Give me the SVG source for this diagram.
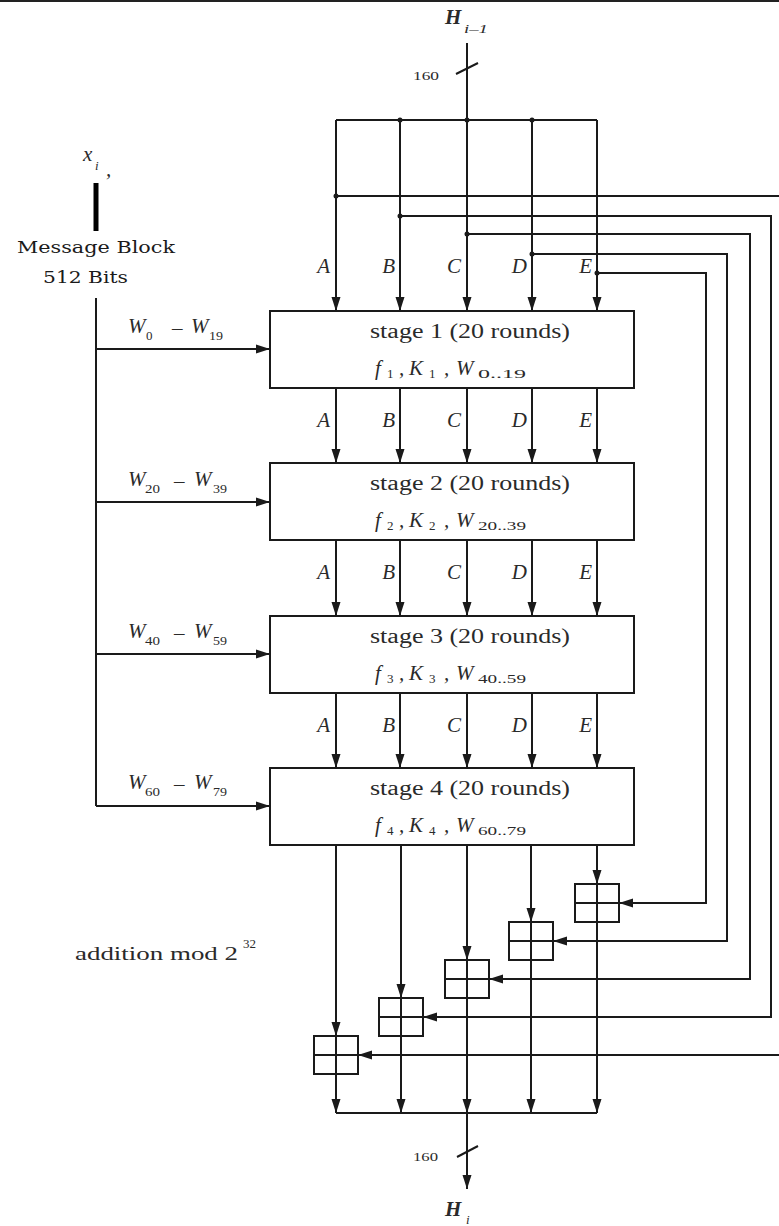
<svg xmlns="http://www.w3.org/2000/svg" width="779" height="1226" viewBox="0 0 779 1226">
<style>
.ln{stroke:#1a1a1a;stroke-width:2;fill:none}
.thick{stroke:#000;stroke-width:5}
.ar{marker-end:url(#ah)}
.box{fill:#fff;stroke:#1a1a1a;stroke-width:2}
.dot{fill:#1a1a1a}
.t{font-family:"Liberation Serif","Times New Roman",serif;fill:#2a2a2a}
.st{font-size:20px}
.it{font-style:italic;font-size:21px}
.lb{font-style:italic;font-size:21px;text-anchor:end}
.sub{font-size:13px}
.si{font-style:italic;font-size:13px}
.hb{font-style:italic;font-weight:bold;font-size:21px}
.msg{font-family:"DejaVu Serif","Liberation Serif",serif;font-size:17px;fill:#1a1a1a}
.sm{font-size:12px}
</style>
<defs>
<marker id="ah" markerUnits="userSpaceOnUse" markerWidth="14" markerHeight="10" refX="14" refY="5" orient="auto"><path d="M0,0.5 L14,5 L0,9.5 z" fill="#1a1a1a"/></marker>
</defs>
<rect x="0" y="0" width="779" height="2" fill="#222"/>

<g id="connectors">
<line class="ln" x1="467" y1="43" x2="467" y2="120"/>
<line class="ln" x1="456" y1="74" x2="478" y2="63"/>
<path class="ln" d="M336,120 H597"/>
<line class="ln ar" x1="336" y1="120" x2="336" y2="311"/>
<line class="ln ar" x1="400" y1="120" x2="400" y2="311"/>
<line class="ln ar" x1="467" y1="120" x2="467" y2="311"/>
<line class="ln ar" x1="532" y1="120" x2="532" y2="311"/>
<line class="ln ar" x1="597" y1="120" x2="597" y2="311"/>
<line class="ln ar" x1="336" y1="388" x2="336" y2="463"/>
<line class="ln ar" x1="400" y1="388" x2="400" y2="463"/>
<line class="ln ar" x1="467" y1="388" x2="467" y2="463"/>
<line class="ln ar" x1="532" y1="388" x2="532" y2="463"/>
<line class="ln ar" x1="597" y1="388" x2="597" y2="463"/>
<line class="ln ar" x1="336" y1="540" x2="336" y2="616"/>
<line class="ln ar" x1="400" y1="540" x2="400" y2="616"/>
<line class="ln ar" x1="467" y1="540" x2="467" y2="616"/>
<line class="ln ar" x1="532" y1="540" x2="532" y2="616"/>
<line class="ln ar" x1="597" y1="540" x2="597" y2="616"/>
<line class="ln ar" x1="336" y1="693" x2="336" y2="768"/>
<line class="ln ar" x1="400" y1="693" x2="400" y2="768"/>
<line class="ln ar" x1="467" y1="693" x2="467" y2="768"/>
<line class="ln ar" x1="532" y1="693" x2="532" y2="768"/>
<line class="ln ar" x1="597" y1="693" x2="597" y2="768"/>
<line class="ln ar" x1="597" y1="845" x2="597" y2="884"/>
<line class="ln ar" x1="531" y1="845" x2="531" y2="922"/>
<line class="ln ar" x1="467" y1="845" x2="467" y2="960"/>
<line class="ln ar" x1="401" y1="845" x2="401" y2="998"/>
<line class="ln ar" x1="336" y1="845" x2="336" y2="1036"/>
<line class="ln ar" x1="597" y1="922" x2="597" y2="1113"/>
<line class="ln ar" x1="531" y1="960" x2="531" y2="1113"/>
<line class="ln ar" x1="467" y1="998" x2="467" y2="1113"/>
<line class="ln ar" x1="401" y1="1036" x2="401" y2="1113"/>
<line class="ln ar" x1="336" y1="1074" x2="336" y2="1113"/>
<path class="ln" d="M336,1113 H597"/>
<line class="ln ar" x1="467" y1="1113" x2="467" y2="1189"/>
<line class="ln" x1="457" y1="1157" x2="478" y2="1146"/>
<path class="ln ar" d="M336,196 H790 V1055 H358"/>
<path class="ln ar" d="M400,216 H771 V1017 H423"/>
<path class="ln ar" d="M467,234 H750 V979 H489"/>
<path class="ln ar" d="M532,254 H727 V941 H553"/>
<path class="ln ar" d="M597,273 H706 V903 H619"/>
<path class="ln" d="M96,298 V806"/>
<line class="ln ar" x1="96" y1="349" x2="270" y2="349"/>
<line class="ln ar" x1="96" y1="502" x2="270" y2="502"/>
<line class="ln ar" x1="96" y1="654" x2="270" y2="654"/>
<line class="ln ar" x1="96" y1="806" x2="270" y2="806"/>
<circle class="dot" cx="400" cy="120" r="2.5"/>
<circle class="dot" cx="467" cy="120" r="2.5"/>
<circle class="dot" cx="532" cy="120" r="2.5"/>
<circle class="dot" cx="336" cy="196" r="2.5"/>
<circle class="dot" cx="400" cy="216" r="2.5"/>
<circle class="dot" cx="467" cy="234" r="2.5"/>
<circle class="dot" cx="532" cy="254" r="2.5"/>
<circle class="dot" cx="597" cy="273" r="2.5"/>
</g>

<g id="labels-abcde" class="t">
<text class="lb" x="330" y="273">A</text><text class="lb" x="395" y="273">B</text><text class="lb" x="461" y="273">C</text><text class="lb" x="527" y="273">D</text><text class="lb" x="592" y="273">E</text>
<text class="lb" x="330" y="427">A</text><text class="lb" x="395" y="427">B</text><text class="lb" x="461" y="427">C</text><text class="lb" x="527" y="427">D</text><text class="lb" x="592" y="427">E</text>
<text class="lb" x="330" y="579">A</text><text class="lb" x="395" y="579">B</text><text class="lb" x="461" y="579">C</text><text class="lb" x="527" y="579">D</text><text class="lb" x="592" y="579">E</text>
<text class="lb" x="330" y="732">A</text><text class="lb" x="395" y="732">B</text><text class="lb" x="461" y="732">C</text><text class="lb" x="527" y="732">D</text><text class="lb" x="592" y="732">E</text>
</g>

<g id="hin" class="t">
<text class="hb" x="445" y="24">H</text><text class="si" x="464" y="33" textLength="24" lengthAdjust="spacingAndGlyphs">i–1</text>
<text class="t sm" x="413" y="80" textLength="26" lengthAdjust="spacingAndGlyphs">160</text>
</g>

<g id="message">
<text class="t it" x="83" y="161">x</text><text class="t si" x="95" y="170">i</text><text class="t it" x="106" y="176">,</text>
<line class="thick" x1="96" y1="183" x2="96" y2="231"/>
<text class="msg" x="17" y="253" textLength="158" lengthAdjust="spacingAndGlyphs">Message Block</text>
<text class="msg" x="43" y="283" textLength="85" lengthAdjust="spacingAndGlyphs">512 Bits</text>
</g>

<g id="wlabels" class="t">
<text class="it" x="128" y="333">W</text><text class="sub" x="146" y="340">0</text><text class="it" x="172" y="335">–</text><text class="it" x="191" y="333">W</text><text class="sub" x="209" y="340" textLength="14" lengthAdjust="spacingAndGlyphs">19</text>
<text class="it" x="128" y="486">W</text><text class="sub" x="145" y="493" textLength="15" lengthAdjust="spacingAndGlyphs">20</text><text class="it" x="174" y="488">–</text><text class="it" x="194" y="486">W</text><text class="sub" x="213" y="493" textLength="14" lengthAdjust="spacingAndGlyphs">39</text>
<text class="it" x="128" y="638">W</text><text class="sub" x="145" y="645" textLength="15" lengthAdjust="spacingAndGlyphs">40</text><text class="it" x="174" y="640">–</text><text class="it" x="194" y="638">W</text><text class="sub" x="213" y="645" textLength="14" lengthAdjust="spacingAndGlyphs">59</text>
<text class="it" x="128" y="789">W</text><text class="sub" x="145" y="796" textLength="15" lengthAdjust="spacingAndGlyphs">60</text><text class="it" x="174" y="791">–</text><text class="it" x="194" y="789">W</text><text class="sub" x="213" y="796" textLength="14" lengthAdjust="spacingAndGlyphs">79</text>
</g>

<g id="stage1">
<rect class="box" x="270" y="311" width="364" height="77"/>
<text class="t st" x="370" y="338" textLength="200" lengthAdjust="spacingAndGlyphs">stage 1 (20 rounds)</text>
<text class="t it" x="375" y="375">f</text><text class="t sub" x="387" y="378">1</text><text class="t it" x="399" y="375">,</text><text class="t it" x="409" y="375">K</text><text class="t sub" x="429" y="378">1</text><text class="t it" x="444" y="375">,</text><text class="t it" x="456" y="375">W</text><text class="t sub" x="478" y="378" textLength="48" lengthAdjust="spacingAndGlyphs">0..19</text>
</g>
<g id="stage2">
<rect class="box" x="270" y="463" width="364" height="77"/>
<text class="t st" x="370" y="490" textLength="200" lengthAdjust="spacingAndGlyphs">stage 2 (20 rounds)</text>
<text class="t it" x="375" y="527">f</text><text class="t sub" x="387" y="530">2</text><text class="t it" x="399" y="527">,</text><text class="t it" x="409" y="527">K</text><text class="t sub" x="429" y="530">2</text><text class="t it" x="444" y="527">,</text><text class="t it" x="456" y="527">W</text><text class="t sub" x="478" y="530" textLength="48" lengthAdjust="spacingAndGlyphs">20..39</text>
</g>
<g id="stage3">
<rect class="box" x="270" y="616" width="364" height="77"/>
<text class="t st" x="370" y="643" textLength="200" lengthAdjust="spacingAndGlyphs">stage 3 (20 rounds)</text>
<text class="t it" x="375" y="680">f</text><text class="t sub" x="387" y="683">3</text><text class="t it" x="399" y="680">,</text><text class="t it" x="409" y="680">K</text><text class="t sub" x="429" y="683">3</text><text class="t it" x="444" y="680">,</text><text class="t it" x="456" y="680">W</text><text class="t sub" x="478" y="683" textLength="48" lengthAdjust="spacingAndGlyphs">40..59</text>
</g>
<g id="stage4">
<rect class="box" x="270" y="768" width="364" height="77"/>
<text class="t st" x="370" y="795" textLength="200" lengthAdjust="spacingAndGlyphs">stage 4 (20 rounds)</text>
<text class="t it" x="375" y="832">f</text><text class="t sub" x="387" y="835">4</text><text class="t it" x="399" y="832">,</text><text class="t it" x="409" y="832">K</text><text class="t sub" x="429" y="835">4</text><text class="t it" x="444" y="832">,</text><text class="t it" x="456" y="832">W</text><text class="t sub" x="478" y="835" textLength="48" lengthAdjust="spacingAndGlyphs">60..79</text>
</g>

<g id="adderE"><rect class="box" x="575" y="884" width="44" height="38"/><path class="ln" d="M597,884 V922 M575,903 H619"/></g>
<g id="adderD"><rect class="box" x="509" y="922" width="44" height="38"/><path class="ln" d="M531,922 V960 M509,941 H553"/></g>
<g id="adderC"><rect class="box" x="445" y="960" width="44" height="38"/><path class="ln" d="M467,960 V998 M445,979 H489"/></g>
<g id="adderB"><rect class="box" x="379" y="998" width="44" height="38"/><path class="ln" d="M401,998 V1036 M379,1017 H423"/></g>
<g id="adderA"><rect class="box" x="314" y="1036" width="44" height="38"/><path class="ln" d="M336,1036 V1074 M314,1055 H358"/></g>

<g id="addlabel">
<text class="t" x="75" y="960" font-size="19" textLength="163" lengthAdjust="spacingAndGlyphs">addition mod 2</text>
<text class="t sm" x="243" y="948" textLength="13" lengthAdjust="spacingAndGlyphs">32</text>
</g>

<g id="hout" class="t">
<text class="t sm" x="413" y="1161" textLength="25" lengthAdjust="spacingAndGlyphs">160</text>
<text class="hb" x="445" y="1216">H</text><text class="si" x="466" y="1224">i</text>
</g>
</svg>
